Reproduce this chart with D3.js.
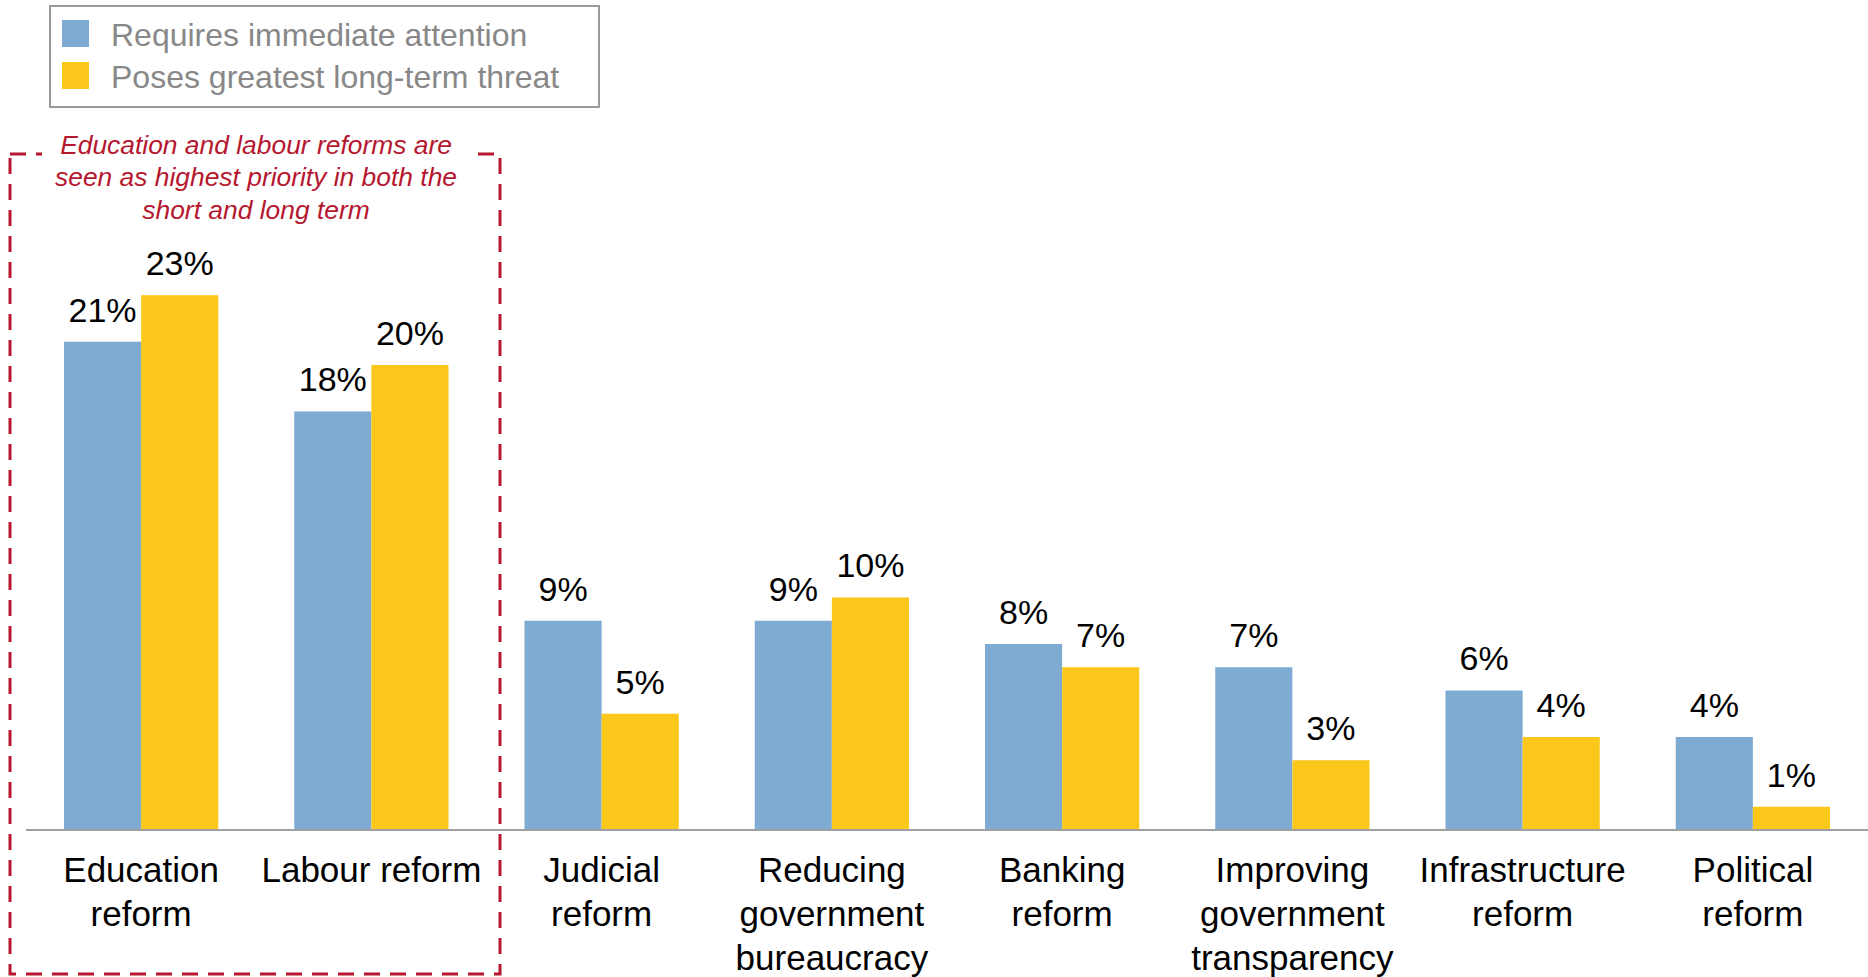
<!DOCTYPE html>
<html>
<head>
<meta charset="utf-8">
<script src="https://cdn.jsdelivr.net/npm/d3@7"></script>
<style>
  html, body { margin: 0; padding: 0; background: #fff; }
  svg { display: block; }
</style>
</head>
<body>
<svg id="chart" width="1868" height="977"></svg>
<script>
// Reform priorities: share of respondents per reform area
const categories = [
  ["Education", "reform"],
  ["Labour reform"],
  ["Judicial", "reform"],
  ["Reducing", "government", "bureaucracy"],
  ["Banking", "reform"],
  ["Improving", "government", "transparency"],
  ["Infrastructure", "reform"],
  ["Political", "reform"]
];
const seriesNames = ["Requires immediate attention", "Poses greatest long-term threat"];
const immediate = [21, 18, 9, 9, 8, 7, 6, 4];
const longTerm = [23, 20, 5, 10, 7, 3, 4, 1];
const seriesColors = ["#7faad2", "#fbc71a"];
const noteLines = [
  "Education and labour reforms are",
  "seen as highest priority in both the",
  "short and long term"
];

const W = 1868, H = 977;
const svg = d3.select("#chart");
const font = "'Liberation Sans', Arial, sans-serif";

const baseY = 830;
const x = d3.scaleBand()
  .domain(d3.range(categories.length))
  .range([26, W])
  .paddingInner(0.33)
  .paddingOuter(0.165);
const sub = d3.scaleBand().domain([0, 1]).range([0, x.bandwidth()]);
const y = d3.scaleLinear().domain([0, 25]).range([baseY, 248.7]);

const series = [immediate, longTerm];

// bars
const groups = svg.append("g").selectAll("g")
  .data(categories)
  .join("g")
  .attr("transform", (d, i) => `translate(${x(i)},0)`);

groups.each(function(d, i) {
  const g = d3.select(this);
  series.forEach((vals, s) => {
    g.append("rect")
      .attr("x", sub(s))
      .attr("y", y(vals[i]))
      .attr("width", sub.bandwidth())
      .attr("height", baseY - y(vals[i]))
      .attr("fill", seriesColors[s]);
    g.append("text")
      .attr("x", sub(s) + sub.bandwidth() / 2)
      .attr("y", y(vals[i]) - 20)
      .attr("text-anchor", "middle")
      .attr("font-family", font)
      .attr("font-size", 34)
      .attr("fill", "#000")
      .text(vals[i] + "%");
  });
  // category label
  const lab = g.append("text")
    .attr("text-anchor", "middle")
    .attr("font-family", font)
    .attr("font-size", 35)
    .attr("fill", "#000");
  d.forEach((line, k) => {
    lab.append("tspan")
      .attr("x", x.bandwidth() / 2)
      .attr("y", 882 + k * 44)
      .text(line);
  });
});

// baseline
svg.append("line")
  .attr("x1", 26).attr("x2", W)
  .attr("y1", baseY).attr("y2", baseY)
  .attr("stroke", "#a0a0a0")
  .attr("stroke-width", 2);

// highlight box around the first two categories
svg.append("rect")
  .attr("x", 10).attr("y", 154)
  .attr("width", 490).attr("height", 820)
  .attr("fill", "none")
  .attr("stroke", "#b5172f")
  .attr("stroke-width", 3)
  .attr("stroke-dasharray", "16 10");

svg.append("rect")
  .attr("x", 42).attr("y", 125)
  .attr("width", 430).attr("height", 40)
  .attr("fill", "#fff");

const note = svg.append("text")
  .attr("text-anchor", "middle")
  .attr("font-family", font)
  .attr("font-style", "italic")
  .attr("font-size", 26.4)
  .attr("fill", "#b5172f");
noteLines.forEach((line, k) => {
  note.append("tspan")
    .attr("x", 256)
    .attr("y", 154 + k * 32.3)
    .text(line);
});

// legend
const legend = svg.append("g");
legend.append("rect")
  .attr("x", 50).attr("y", 6)
  .attr("width", 549).attr("height", 101)
  .attr("fill", "#fff")
  .attr("stroke", "#999")
  .attr("stroke-width", 2);
seriesNames.forEach((name, s) => {
  legend.append("rect")
    .attr("x", 62).attr("y", 20 + s * 42)
    .attr("width", 27).attr("height", 27)
    .attr("fill", seriesColors[s]);
  legend.append("text")
    .attr("x", 111).attr("y", 46 + s * 42)
    .attr("font-family", font)
    .attr("font-size", 32)
    .attr("fill", "#888")
    .text(name);
});
</script>
</body>
</html>
